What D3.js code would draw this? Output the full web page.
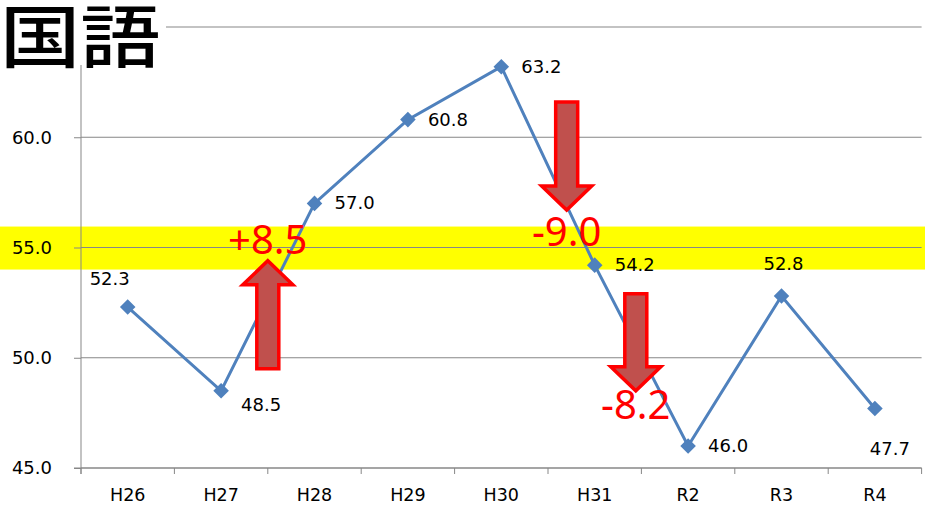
<!DOCTYPE html>
<html><head><meta charset="utf-8">
<script src="https://cdn.jsdelivr.net/npm/d3@7"></script>
<style>html,body{margin:0;padding:0;background:#fff;overflow:hidden}</style>
</head><body><svg id="c" width="925" height="507"></svg>
<script>
const title = "国語";
const categories = ["H26","H27","H28","H29","H30","H31","R2","R3","R4"];
const values = [52.3, 48.5, 57.0, 60.8, 63.2, 54.2, 46.0, 52.8, 47.7];
const yTicks = [45, 50, 55, 60, 65];
const band = [54.0, 55.95];
// annotations: position along category axis (fractional index), from value, to value (tip)
const arrowPos = [1.5, 4.7, 5.44];
const arrowFrom = [49.5, 61.6, 52.9];
const arrowTo = [54.4, 56.7, 48.5];
const changeLabels = ["+8.5", "-9.0", "-8.2"];
const changeLabelPos = [1.5, 4.7, 5.44];
const changeLabelVal = [54.7, 55.05, 47.2];

(function () {
const svg = d3.select("#c");
const W = 925, H = 507;
const mLeft = 81, mRight = 921.6, mTop = 27, mBottom = 468;
const x = d3.scaleBand().domain(categories).range([mLeft, mRight]).padding(0);
const bw = x.bandwidth();
const xi = i => mLeft + (i + 0.5) * bw;
const y = d3.scaleLinear().domain([45, 65]).range([mBottom, mTop]);
const font = "'DejaVu Sans', Verdana, sans-serif";

// yellow band
svg.append("rect").attr("x", 0).attr("width", W)
  .attr("y", y(band[1])).attr("height", y(band[0]) - y(band[1]))
  .attr("fill", "#FFFF00");

// gridlines
svg.append("g").selectAll("line").data(yTicks).join("line")
  .attr("x1", mLeft).attr("x2", mRight)
  .attr("y1", d => y(d)).attr("y2", d => y(d))
  .attr("stroke", "#878787").attr("stroke-width", 1);

// y axis
const yAxis = d3.axisLeft(y).tickValues(yTicks.slice(0, 4)).tickSize(7).tickPadding(22)
  .tickFormat(d3.format(".1f"));
const gy = svg.append("g").attr("transform", `translate(${mLeft},0)`).call(yAxis);
gy.select(".domain").attr("d", `M0,${mTop}V${mBottom + 6}`).attr("stroke", "#878787");
gy.selectAll(".tick line").attr("stroke", "#878787");
gy.selectAll("text").attr("font-family", font).attr("font-size", 18).attr("fill", "#000");

// x axis
const xAxis = d3.axisBottom(x).tickSize(0).tickPadding(21);
const gx = svg.append("g").attr("transform", `translate(0,${mBottom})`).call(xAxis);
gx.select(".domain").attr("d", `M${mLeft - 7},0H${mRight}`).attr("stroke", "#878787");
gx.selectAll("text").attr("font-family", font).attr("font-size", 17.5).attr("fill", "#000");
gx.append("g").selectAll("line").data(d3.range(categories.length + 1)).join("line")
  .attr("x1", i => mLeft + i * bw).attr("x2", i => mLeft + i * bw)
  .attr("y1", 0).attr("y2", 6).attr("stroke", "#878787");

// line
const pts = values.map((v, i) => [x(categories[i]) + bw / 2, y(v)]);
svg.append("path").datum(pts).attr("d", d3.line())
  .attr("fill", "none").attr("stroke", "#4F81BD").attr("stroke-width", 3);
svg.append("g").selectAll("path").data(pts).join("path")
  .attr("transform", d => `translate(${d[0]},${d[1]}) rotate(45)`)
  .attr("d", "M-5.5,-5.5H5.5V5.5H-5.5Z").attr("fill", "#4F81BD");

// data labels
const place = ["al","br","r","r","r","r","r","a","b"];
svg.append("g").selectAll("text").data(values).join("text")
  .attr("font-family", font).attr("font-size", 18).attr("fill", "#000")
  .attr("x", (d, i) => {
    const p = pts[i][0];
    return place[i] === "al" ? p - 18 : place[i] === "a" ? p + 2 : place[i] === "b" ? p + 15 : p + 20;
  })
  .attr("y", (d, i) => {
    const p = pts[i][1];
    return place[i] === "al" ? p - 22 : place[i] === "a" ? p - 26 : place[i] === "b" ? p + 47 : place[i] === "br" ? p + 20 : p + 6;
  })
  .attr("text-anchor", (d, i) => ["al","a","b"].includes(place[i]) ? "middle" : "start")
  .text(d => d.toFixed(1));

// arrows
function arrow(cx, y0, y1) {
  const dir = y1 < y0 ? -1 : 1;
  const sw = 11, hw = 25, hl = 24;
  const hb = y1 - dir * hl;
  return `M${cx - sw},${y0}V${hb}H${cx - hw}L${cx},${y1}L${cx + hw},${hb}H${cx + sw}V${y0}Z`;
}
svg.append("g").selectAll("path").data(arrowFrom).join("path")
  .attr("d", (d, i) => arrow(xi(arrowPos[i]), y(d), y(arrowTo[i])))
  .attr("fill", "#C0504D").attr("stroke", "#FF0000").attr("stroke-width", 3.5)
  .attr("stroke-linejoin", "miter");

// change labels
svg.append("g").selectAll("text").data(changeLabels).join("text")
  .attr("x", (d, i) => xi(changeLabelPos[i]))
  .attr("y", (d, i) => y(changeLabelVal[i]))
  .attr("text-anchor", "middle")
  .attr("font-family", "'Noto Sans', 'Open Sans', sans-serif")
  .attr("font-size", 40).attr("fill", "#FF0000")
  .text(d => d);

// title
svg.append("rect").attr("x", 0).attr("y", 0).attr("width", 166).attr("height", 65).attr("fill", "#fff");
svg.append("text").attr("transform", "translate(0,62) scale(1.18,1)")
  .attr("font-family", "'Noto Sans CJK JP', sans-serif").attr("font-weight", 500)
  .attr("font-size", 68).attr("fill", "#000")
  .text(title);
})();
</script></body></html>
